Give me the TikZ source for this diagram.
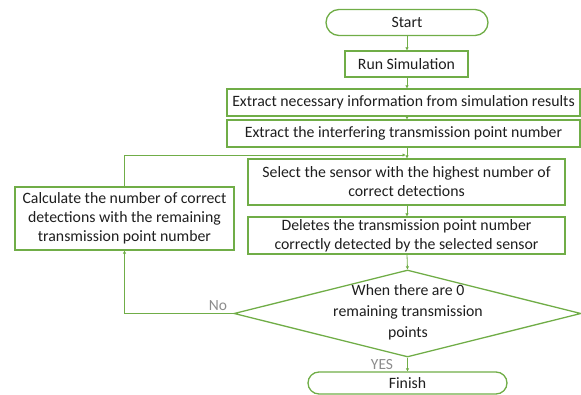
\documentclass[tikz,border=0pt]{standalone}
\usepackage{fontspec}
\setmainfont{Carlito}
\usetikzlibrary{shapes.misc,shapes.geometric,arrows.meta}
\definecolor{grn}{HTML}{70AD47}
\definecolor{txt}{HTML}{1E1E1E}
\definecolor{lbl}{HTML}{8C8C8C}
\begin{document}
\begin{tikzpicture}[x=1pt,y=-1pt,
  font=\fontsize{15.8}{19}\selectfont, text=txt,
  box/.style={draw=grn, line width=1.3pt, rectangle, inner sep=0pt, align=center},
  term/.style={draw=grn, line width=1.3pt, rounded rectangle, inner sep=0pt},
  dia/.style={draw=grn, line width=1.3pt, diamond, inner sep=0pt},
  arr/.style={draw=grn, line width=0.8pt, -{Triangle[length=3pt,width=3pt]}},
  lab/.style={text=lbl, font=\fontsize{15.5}{17}\selectfont}]
\useasboundingbox (0,0) rectangle (581,395);
\node[term, minimum width=162pt, minimum height=26pt] (start) at (407,22.5) {Start};
\node[box, minimum width=123pt, minimum height=26pt] (run) at (406.5,64) {Run Simulation};
\node[box, minimum width=353pt, minimum height=27pt] (ex1) at (403.5,102.5) {Extract necessary information from simulation results};
\node[box, minimum width=353pt, minimum height=27pt] (ex2) at (403.5,133.5) {Extract the interfering transmission point number};
\node[box, minimum width=317pt, minimum height=46pt] (sel) at (406.5,182) {Select the sensor with the highest number of\\correct detections};
\node[box, minimum width=317pt, minimum height=37pt] (del) at (406.5,235.5) {Deletes the transmission point number\\correctly detected by the selected sensor};
\node[box, minimum width=219pt, minimum height=63pt] (calc) at (124.5,218.5) {Calculate the number of correct\\detections with the remaining\\transmission point number};
\node[dia, minimum width=347pt, minimum height=87pt] (dec) at (407.5,313.5) {};
\node[align=center, inner sep=0pt, font=\fontsize{15.8}{21}\selectfont] (dectxt) at (408,312.5) {When there are 0\\remaining transmission\\points};
\node[term, minimum width=199pt, minimum height=22pt] (fin) at (407.5,383) {Finish};
\coordinate (j) at (407,155);
\node[lab, anchor=base] (no) at (218,311) {No};
\node[lab, anchor=base] (yes) at (382,369) {YES};
\draw[arr] (start.south -| j) -- (run.north -| j);
\draw[arr] (run.south -| j) -- (ex1.north -| j);
\draw[arr] (ex1.south -| j) -- (ex2.north -| j);
\draw[arr] (ex2.south -| j) -- (sel.north -| j);
\draw[arr] (calc.north) |- ([xshift=-1.5pt]j);
\draw[arr] (sel.south -| j) -- (del.north -| j);
\draw[arr] (del.south -| j) -- (dec.north);
\draw[arr] (dec.south) -- (fin.north -| dec.south);
\draw[arr] (dec.west) -| (calc.south);
\end{tikzpicture}
\end{document}
